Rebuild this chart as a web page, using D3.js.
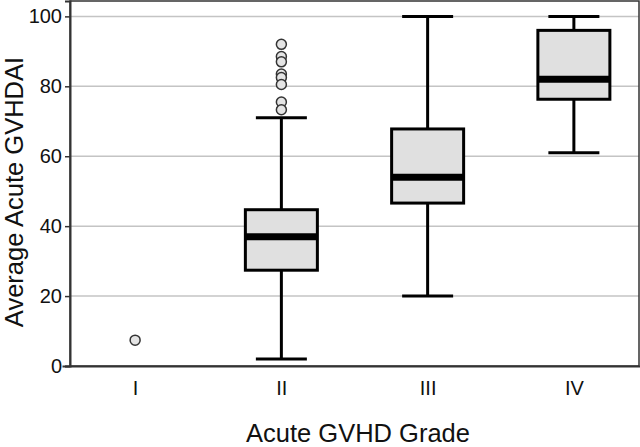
<!DOCTYPE html>
<meta charset="utf-8">
<head>
    <style>
        body {margin: 0; background: #fff;}
        text {font-family: "Liberation Sans", Arial, sans-serif; fill: #111;}
        .grid line {stroke: #c4c4c4; stroke-width: 1.5px;}
        .box {fill: #e0e0e0; stroke: #000; stroke-width: 3px;}
        .whisker {stroke: #000; stroke-width: 3px;}
        .median {stroke: #000; stroke-width: 7px;}
        .outlier {fill: #e4e4e4; stroke: #333; stroke-width: 1.5px;}
    </style>
    <script src="https://d3js.org/d3.v7.min.js"></script>
</head>
<body>
<script>

    // box stats (grade I has no box, only a single point)
    var grades = ["I", "II", "III", "IV"],
        lowWhisker = [null, 2, 20, 61],
        q1 = [null, 27.4, 46.6, 76.3],
        median = [null, 37, 54, 82],
        q3 = [null, 44.7, 67.8, 96],
        highWhisker = [null, 71, 100, 100],
        outliersI = [7.4],
        outliersII = [92, 88.5, 87, 83.5, 82.5, 80.5, 75.5, 73.3],
        yTicks = [0, 20, 40, 60, 80, 100];

    var outliers = [outliersI, outliersII, [], []];

    var margin = {top: 1, right: 1, bottom: 81, left: 70},
        width = 640 - margin.left - margin.right,
        height = 447 - margin.top - margin.bottom;

    var boxWidth = 72,
        capWidth = 51;

    var x = d3.scalePoint()
        .domain(grades)
        .range([62 - margin.left, 647 - margin.left])
        .padding(0.5);

    var y = d3.scaleLinear()
        .domain([0, 104.4])
        .range([height, 0]);

    var svg = d3.select("body").append("svg")
        .attr("width", width + margin.left + margin.right)
        .attr("height", height + margin.top + margin.bottom)
      .append("g")
        .attr("transform", "translate(" + margin.left + "," + margin.top + ")")

    // grid
    svg.append("g")
        .attr("class", "grid")
        .selectAll("line")
        .data(yTicks.slice(1))
      .enter().append("line")
        .attr("x1", 0)
        .attr("x2", width)
        .attr("y1", function(d) {return y(d)})
        .attr("y2", function(d) {return y(d)})

    // frame top / right
    svg.append("rect")
        .attr("x", 0).attr("y", 0)
        .attr("width", width).attr("height", height)
        .attr("fill", "none")
        .attr("stroke", "#333")
        .attr("stroke-width", 1.5)

    var stats = grades.map(function(g, i) {
        return {g: g, lo: lowWhisker[i], q1: q1[i], med: median[i], q3: q3[i], hi: highWhisker[i], out: outliers[i]};
    });

    var boxes = stats.filter(function(d) {return d.med != null});

    var groups = svg.selectAll(".grade")
        .data(boxes)
      .enter().append("g")
        .attr("class", "grade")
        .attr("transform", function(d) {return "translate(" + x(d.g) + ",0)"})

    // whiskers
    groups.append("line").attr("class", "whisker")
        .attr("x1", 0).attr("x2", 0)
        .attr("y1", function(d) {return y(d.hi)})
        .attr("y2", function(d) {return y(d.lo)})

    groups.selectAll(".cap")
        .data(function(d) {return [d.lo, d.hi]})
      .enter().append("line")
        .attr("class", "whisker cap")
        .attr("x1", -capWidth/2).attr("x2", capWidth/2)
        .attr("y1", function(d) {return y(d)})
        .attr("y2", function(d) {return y(d)})

    groups.append("rect").attr("class", "box")
        .attr("x", -boxWidth/2)
        .attr("width", boxWidth)
        .attr("y", function(d) {return y(d.q3)})
        .attr("height", function(d) {return y(d.q1) - y(d.q3)})

    groups.append("line").attr("class", "median")
        .attr("x1", -boxWidth/2).attr("x2", boxWidth/2)
        .attr("y1", function(d) {return y(d.med)})
        .attr("y2", function(d) {return y(d.med)})

    // outliers
    svg.selectAll(".outGroup")
        .data(stats)
      .enter().append("g")
        .attr("transform", function(d) {return "translate(" + x(d.g) + ",0)"})
        .selectAll("circle")
        .data(function(d) {return d.out})
      .enter().append("circle")
        .attr("class", "outlier")
        .attr("cx", 0)
        .attr("cy", function(d) {return y(d)})
        .attr("r", 5)

    // axes
    var yAxis = svg.append("g")
        .call(d3.axisLeft(y).tickValues(yTicks).tickSize(5).tickPadding(3))
    yAxis.select(".domain").attr("stroke", "#333").attr("stroke-width", 2)
    yAxis.selectAll(".tick line").attr("stroke", "#333").attr("stroke-width", 1.5)
    yAxis.selectAll("text").attr("font-size", "20px").attr("font-family", "Liberation Sans, Arial, sans-serif").attr("fill", "#111")

    var xAxis = svg.append("g")
        .attr("transform", "translate(0," + height + ")")
        .call(d3.axisBottom(x).tickSize(0).tickPadding(15))
    xAxis.select(".domain").attr("stroke", "#333").attr("stroke-width", 2)
    xAxis.selectAll("text").attr("font-size", "20px").attr("font-family", "Liberation Sans, Arial, sans-serif").attr("fill", "#111")

    svg.append("text")
        .attr("x", 358 - margin.left)
        .attr("y", 442 - margin.top)
        .attr("text-anchor", "middle")
        .attr("font-size", "25.5px")
        .text("Acute GVHD Grade")

    svg.append("text")
        .attr("transform", "translate(" + (23 - margin.left) + "," + (192 - margin.top) + ") rotate(-90)")
        .attr("text-anchor", "middle")
        .attr("font-size", "25.5px")
        .text("Average Acute GVHDAI")

</script>
</body>
